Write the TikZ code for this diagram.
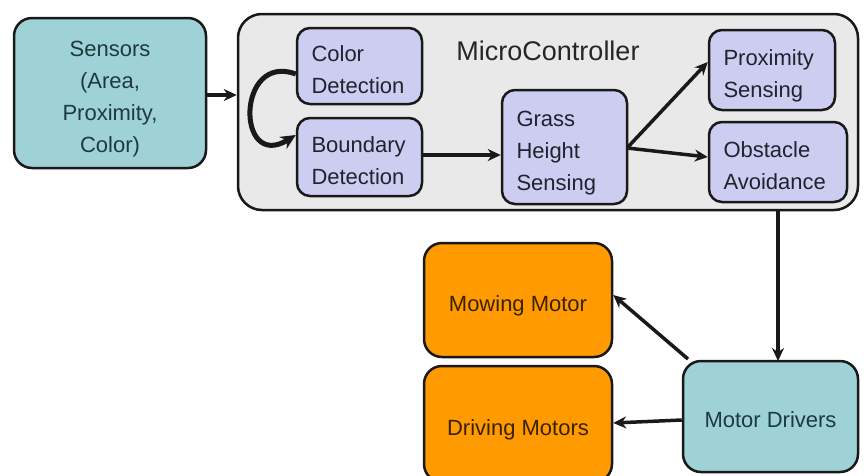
\documentclass[tikz,border=0pt]{standalone}
\usepackage{fontspec}
\setmainfont{Liberation Sans}
\usetikzlibrary{arrows.meta}
\definecolor{teal1}{HTML}{9ED2D7}
\definecolor{lav}{HTML}{CDCDF2}
\definecolor{mcgray}{HTML}{E9E9E9}
\definecolor{orng}{HTML}{FF9A00}
\definecolor{txtteal}{HTML}{1E3A3E}
\definecolor{txtorng}{HTML}{3A2200}
\definecolor{txtlav}{HTML}{22222E}
\newcommand{\lowtxt}[2][c]{\raisebox{-5pt}[\height][\depth]{\begin{tabular}{@{}#1@{}}#2\end{tabular}}}
\tikzset{
  box/.style={draw=black!90, line width=2.5pt, rounded corners=18pt, font=\fontsize{22}{32}\selectfont},
  tealbox/.style={box, fill=teal1, text=txtteal, align=center},
  orangebox/.style={box, fill=orng, text=txtorng, align=center},
  innerbox/.style={box, rounded corners=13pt, fill=lav, text=txtlav, align=left, inner xsep=14pt},
  mcbox/.style={box, rounded corners=24pt, fill=mcgray},
  arr/.style={line width=3.5pt, draw=black!90, -{Stealth[length=13pt,width=12pt]}},
}
\begin{document}
\begin{tikzpicture}[x=1pt,y=-1pt]
\useasboundingbox (0,0) rectangle (864,475);
\clip (0,0) rectangle (864,475);
\node[tealbox, minimum width=192pt, minimum height=150pt] (sensors) at (110,93) {\lowtxt{Sensors\\(Area,\\Proximity,\\Color)}};
\node[mcbox, minimum width=620pt, minimum height=196pt] (mc) at (548,112) {};
\node[font=\fontsize{27}{32}\selectfont, text=black!85] (mclabel) at (548,51) {MicroController};
\node[innerbox, minimum width=125pt, minimum height=76pt, text width=96pt] (color) at (359.5,66) {\lowtxt[l]{Color\\Detection}};
\node[innerbox, minimum width=125pt, minimum height=78pt, text width=96pt] (boundary) at (359.5,157) {\lowtxt[l]{Boundary\\Detection}};
\node[innerbox, minimum width=125pt, minimum height=114pt, text width=96pt] (grass) at (564.5,147) {\lowtxt[l]{Grass\\Height\\Sensing}};
\node[innerbox, minimum width=126pt, minimum height=80pt, text width=97pt] (prox) at (772,70) {\lowtxt[l]{Proximity\\Sensing}};
\node[innerbox, minimum width=138pt, minimum height=80pt, text width=109pt] (obst) at (778,162) {\lowtxt[l]{Obstacle\\Avoidance}};
\node[orangebox, minimum width=188pt, minimum height=114pt] (mowing) at (518,300) {\lowtxt{Mowing Motor}};
\node[orangebox, minimum width=188pt, minimum height=116pt] (driving) at (518,424) {\lowtxt{Driving Motors}};
\node[tealbox, minimum width=175pt, minimum height=111pt] (drivers) at (770.5,416.5) {\lowtxt{Motor Drivers}};
\coordinate (mcout) at (778,210);
\coordinate (drvin) at (778,361);
\draw[arr] (sensors.east |- 0,95) -- (mc.west |- 0,95);
\draw[line width=5pt, draw=black!90, -{Stealth[length=15pt,width=14pt]}] ([yshift=-8pt]color.west) .. controls (236,52) and (236,172) .. ([yshift=22pt]boundary.west);
\draw[arr] (boundary.east |- 0,155) -- (grass.west |- 0,155);
\coordinate (gsplit) at (627,148);
\draw[arr] (gsplit) -- ([yshift=8pt]prox.west);
\draw[arr] (gsplit) -- ([yshift=5pt]obst.west);
\draw[arr] (mcout) -- (drvin);
\draw[arr] (688,359) -- ([yshift=5pt]mowing.east);
\draw[arr] (drivers.west |- 0,420) -- (driving.east |- 0,423);
\end{tikzpicture}
\end{document}
